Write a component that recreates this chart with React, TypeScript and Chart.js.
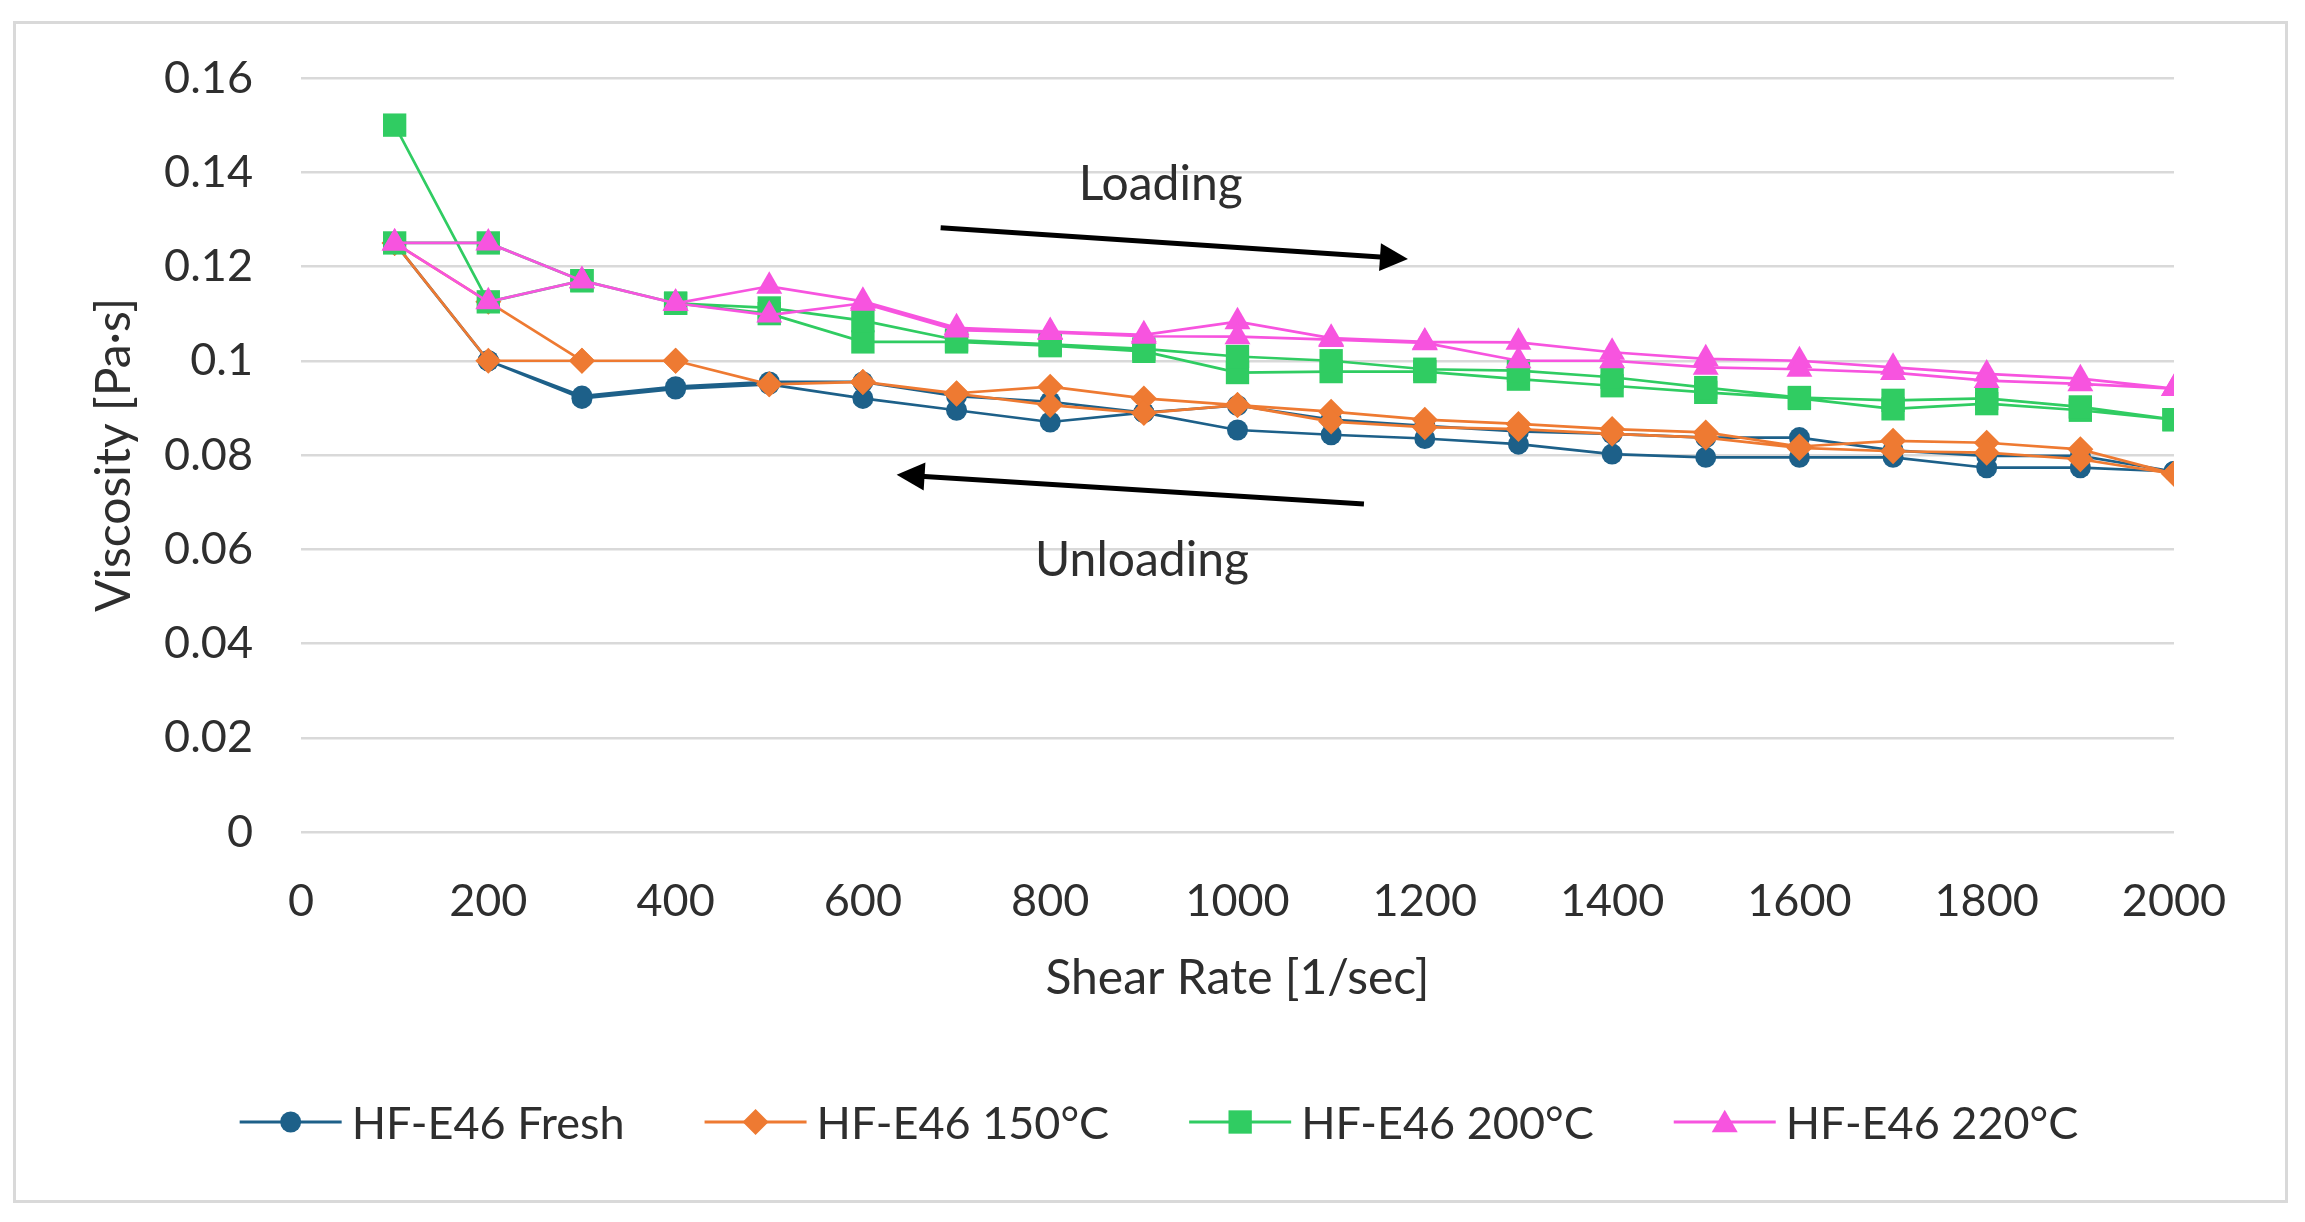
import React, { useEffect, useRef } from "react";
import { Chart, registerables } from "chart.js";

Chart.register(...registerables);

// ---- Data ----
// Shear-rate loop: loading 100 -> 2000, then unloading 2000 -> 100
const SHEAR_RATE_LOOP = [
  100, 200, 300, 400, 500, 600, 700, 800, 900, 1000,
  1100, 1200, 1300, 1400, 1500, 1600, 1700, 1800, 1900, 2000,
  2000, 1900, 1800, 1700, 1600, 1500, 1400, 1300, 1200, 1100,
  1000, 900, 800, 700, 600, 500, 400, 300, 200, 100,
];

const FRESH_VISCOSITY = [
  0.125, 0.1, 0.092, 0.094, 0.095, 0.092, 0.0895, 0.087, 0.089, 0.0853,
  0.0843, 0.0835, 0.0823, 0.0802, 0.0795, 0.0795, 0.0795, 0.0773, 0.0773, 0.0765,
  0.0765, 0.0798, 0.0798, 0.081, 0.0837, 0.0837, 0.0845, 0.085, 0.0862, 0.0875,
  0.0905, 0.089, 0.0913, 0.0925, 0.0955, 0.0955, 0.0945, 0.0925, 0.1, 0.125,
];

const C150_VISCOSITY = [
  0.125, 0.1125, 0.1, 0.1, 0.095, 0.0955, 0.0931, 0.0945, 0.092, 0.0906,
  0.0892, 0.0875, 0.0866, 0.0855, 0.0848, 0.0818, 0.083, 0.0826, 0.0812, 0.076,
  0.076, 0.0791, 0.0805, 0.0808, 0.0815, 0.0837, 0.0845, 0.0855, 0.0859, 0.0871,
  0.0906, 0.0889, 0.0906, 0.093, 0.0955, 0.095, 0.1, 0.1, 0.1, 0.125,
];

const C200_VISCOSITY = [
  0.15, 0.1125, 0.117, 0.1122, 0.11, 0.104, 0.104, 0.1032, 0.102, 0.0975,
  0.0977, 0.0977, 0.0961, 0.0947, 0.0933, 0.092, 0.0898, 0.0909, 0.0895, 0.0875,
  0.0875, 0.0902, 0.092, 0.0916, 0.0922, 0.0943, 0.0965, 0.0979, 0.0982, 0.1,
  0.1009, 0.1025, 0.1035, 0.1044, 0.1085, 0.1112, 0.1122, 0.117, 0.125, 0.125,
];

const C220_VISCOSITY = [
  0.125, 0.125, 0.117, 0.1122, 0.1158, 0.1126, 0.107, 0.1062, 0.1055, 0.1083,
  0.1048, 0.104, 0.1039, 0.1018, 0.1004, 0.1, 0.0986, 0.0972, 0.0962, 0.0941,
  0.0941, 0.0951, 0.0958, 0.0975, 0.0982, 0.0986, 0.1, 0.1, 0.1038, 0.1045,
  0.1051, 0.1052, 0.106, 0.1065, 0.1122, 0.1097, 0.1122, 0.117, 0.1125, 0.125,
];

const SERIES_NAMES = ["HF-E46 Fresh", "HF-E46 150°C", "HF-E46 200°C", "HF-E46 220°C"];
const SERIES_VALUES = [FRESH_VISCOSITY, C150_VISCOSITY, C200_VISCOSITY, C220_VISCOSITY];

const X_TICKS = [0, 200, 400, 600, 800, 1000, 1200, 1400, 1600, 1800, 2000];
const Y_TICKS = [0, 0.02, 0.04, 0.06, 0.08, 0.1, 0.12, 0.14, 0.16];

const X_TITLE = "Shear Rate [1/sec]";
const Y_TITLE = "Viscosity [Pa·s]";

// Annotation anchors in data coordinates
const LOADING_LABEL = "Loading";
const LOADING_LABEL_AT = [918, 0.1373];
const LOADING_ARROW_X = [683, 1182];
const LOADING_ARROW_Y = [0.1282, 0.1216];
const UNLOADING_LABEL = "Unloading";
const UNLOADING_LABEL_AT = [898, 0.0577];
const UNLOADING_ARROW_X = [1135, 636];
const UNLOADING_ARROW_Y = [0.0696, 0.0758];

// ---- Styles ----
const COLORS = ["#1d6089", "#ee7a32", "#30cc62", "#f754df"];
const POINT_STYLES = ["circle", "rectRot", "rect", "triangle"];
const POINT_RADII = [10.5, 13, 16.5, 15];
const FONT = "Lato, 'Open Sans', sans-serif";
const TEXT_COLOR = "#2e2e2e";

function drawMarker(ctx: CanvasRenderingContext2D, style: string, x: number, y: number, r: number) {
  ctx.beginPath();
  if (style === "circle") {
    ctx.arc(x, y, r, 0, Math.PI * 2);
  } else if (style === "rectRot") {
    ctx.moveTo(x - r, y);
    ctx.lineTo(x, y - r);
    ctx.lineTo(x + r, y);
    ctx.lineTo(x, y + r);
    ctx.closePath();
  } else if (style === "rect") {
    const s = r * Math.SQRT1_2;
    ctx.rect(x - s, y - s, 2 * s, 2 * s);
  } else {
    const h = r * 1.5;
    const w = r * Math.sqrt(3);
    ctx.moveTo(x, y - h / 2 - 1);
    ctx.lineTo(x + w / 2, y + h / 2 - 1);
    ctx.lineTo(x - w / 2, y + h / 2 - 1);
    ctx.closePath();
  }
  ctx.fill();
}

const annotationPlugin = {
  id: "loopAnnotations",
  afterDatasetsDraw(chart: any) {
    const { ctx, scales } = chart;
    const xs = scales.x;
    const ys = scales.y;
    const drawArrow = (ax: number[], ay: number[]) => {
      const x1 = xs.getPixelForValue(ax[0]);
      const y1 = ys.getPixelForValue(ay[0]);
      const x2 = xs.getPixelForValue(ax[1]);
      const y2 = ys.getPixelForValue(ay[1]);
      const ang = Math.atan2(y2 - y1, x2 - x1);
      const headLen = 28;
      const headHalf = 14;
      const bx = x2 - Math.cos(ang) * headLen;
      const by = y2 - Math.sin(ang) * headLen;
      ctx.save();
      ctx.strokeStyle = "#000";
      ctx.fillStyle = "#000";
      ctx.lineWidth = 5;
      ctx.beginPath();
      ctx.moveTo(x1, y1);
      ctx.lineTo(bx + Math.cos(ang) * 4, by + Math.sin(ang) * 4);
      ctx.stroke();
      ctx.beginPath();
      ctx.moveTo(x2, y2);
      ctx.lineTo(bx - Math.sin(ang) * headHalf, by + Math.cos(ang) * headHalf);
      ctx.lineTo(bx + Math.sin(ang) * headHalf, by - Math.cos(ang) * headHalf);
      ctx.closePath();
      ctx.fill();
      ctx.restore();
    };
    drawArrow(LOADING_ARROW_X, LOADING_ARROW_Y);
    drawArrow(UNLOADING_ARROW_X, UNLOADING_ARROW_Y);

    ctx.save();
    ctx.fillStyle = TEXT_COLOR;
    ctx.font = `48px ${FONT}`;
    ctx.textAlign = "center";
    ctx.textBaseline = "middle";
    ctx.fillText(LOADING_LABEL, xs.getPixelForValue(LOADING_LABEL_AT[0]), ys.getPixelForValue(LOADING_LABEL_AT[1]));
    ctx.fillText(UNLOADING_LABEL, xs.getPixelForValue(UNLOADING_LABEL_AT[0]), ys.getPixelForValue(UNLOADING_LABEL_AT[1]));
    ctx.restore();
  },
  afterDraw(chart: any) {
    // Legend with line + marker samples, laid out below the axis title
    const { ctx } = chart;
    const lineLen = 102;
    const textGap = 10;
    const itemGap = 80;
    const cy = chart.height - 100;
    ctx.save();
    ctx.font = `45px ${FONT}`;
    const widths = chart.data.datasets.map((d: any) => lineLen + textGap + ctx.measureText(d.label).width);
    const total = widths.reduce((a: number, b: number) => a + b, 0) + itemGap * (widths.length - 1);
    let x = 1159 - total / 2;
    chart.data.datasets.forEach((d: any, i: number) => {
      ctx.strokeStyle = d.borderColor;
      ctx.fillStyle = d.pointBackgroundColor;
      ctx.lineWidth = 3;
      ctx.beginPath();
      ctx.moveTo(x, cy);
      ctx.lineTo(x + lineLen, cy);
      ctx.stroke();
      drawMarker(ctx, d.pointStyle, x + lineLen / 2, cy, d.pointRadius);
      ctx.fillStyle = TEXT_COLOR;
      ctx.textAlign = "left";
      ctx.textBaseline = "middle";
      ctx.fillText(d.label, x + lineLen + textGap, cy + 2);
      x += widths[i] + itemGap;
    });
    ctx.restore();
  },
};

export default function App() {
  const canvasRef = useRef<HTMLCanvasElement | null>(null);

  useEffect(() => {
    const canvas = canvasRef.current;
    if (!canvas) return;
    const datasets = SERIES_VALUES.map((vals, i) => ({
      label: SERIES_NAMES[i],
      data: vals.map((v, j) => ({ x: SHEAR_RATE_LOOP[j], y: v })),
      showLine: true,
      borderColor: COLORS[i],
      backgroundColor: COLORS[i],
      pointBackgroundColor: COLORS[i],
      pointBorderColor: COLORS[i],
      pointBorderWidth: 0,
      borderWidth: 2.7,
      pointStyle: POINT_STYLES[i],
      pointRadius: POINT_RADII[i],
      tension: 0,
      order: SERIES_VALUES.length - 1 - i,
    }));

    const chart = new Chart(canvas, {
      type: "scatter",
      data: { datasets },
      plugins: [annotationPlugin],
      options: {
        responsive: false,
        animation: false,
        devicePixelRatio: 1,
        layout: { padding: { left: 0, right: 131, top: 78, bottom: 215 } },
        plugins: {
          legend: { display: false },
          tooltip: { enabled: false },
        },
        scales: {
          x: {
            type: "linear",
            min: X_TICKS[0],
            max: X_TICKS[X_TICKS.length - 1],
            afterBuildTicks: (axis: any) => {
              axis.ticks = X_TICKS.map((v) => ({ value: v }));
            },
            afterFit: (axis: any) => {
              axis.height = 175;
            },
            grid: { display: false, drawTicks: false },
            border: { display: false },
            ticks: {
              padding: 42,
              color: TEXT_COLOR,
              font: { family: FONT, size: 45 },
              callback: (v: any) => String(v),
            },
            title: {
              display: true,
              text: X_TITLE,
              color: TEXT_COLOR,
              font: { family: FONT, size: 48 },
              padding: { top: 0, bottom: 0 },
            },
          },
          y: {
            type: "linear",
            min: Y_TICKS[0],
            max: Y_TICKS[Y_TICKS.length - 1],
            afterBuildTicks: (axis: any) => {
              axis.ticks = Y_TICKS.map((v) => ({ value: v }));
            },
            afterFit: (axis: any) => {
              axis.width = 301;
            },
            grid: { color: "#d9d9d9", lineWidth: 2.5, drawTicks: false },
            border: { display: false },
            ticks: {
              padding: 48,
              color: TEXT_COLOR,
              font: { family: FONT, size: 45 },
              callback: (v: any) => String(Number(Number(v).toFixed(2))),
            },
            title: {
              display: true,
              text: Y_TITLE,
              color: TEXT_COLOR,
              font: { family: FONT, size: 48 },
              padding: { top: 86, bottom: 0 },
            },
          },
        },
      },
    } as any);

    return () => chart.destroy();
  }, []);

  return (
    <div
      style={{
        position: "fixed",
        left: 0,
        top: 0,
        width: 2305,
        height: 1222,
        background: "#ffffff",
      }}
    >
      <canvas ref={canvasRef} width={2305} height={1222} style={{ width: 2305, height: 1222, display: "block" }} />
      <div
        style={{
          position: "absolute",
          left: 13,
          top: 21,
          width: 2288 - 13,
          height: 1203 - 21,
          border: "3px solid #d9d9d9",
          boxSizing: "border-box",
          pointerEvents: "none",
        }}
      />
    </div>
  );
}
